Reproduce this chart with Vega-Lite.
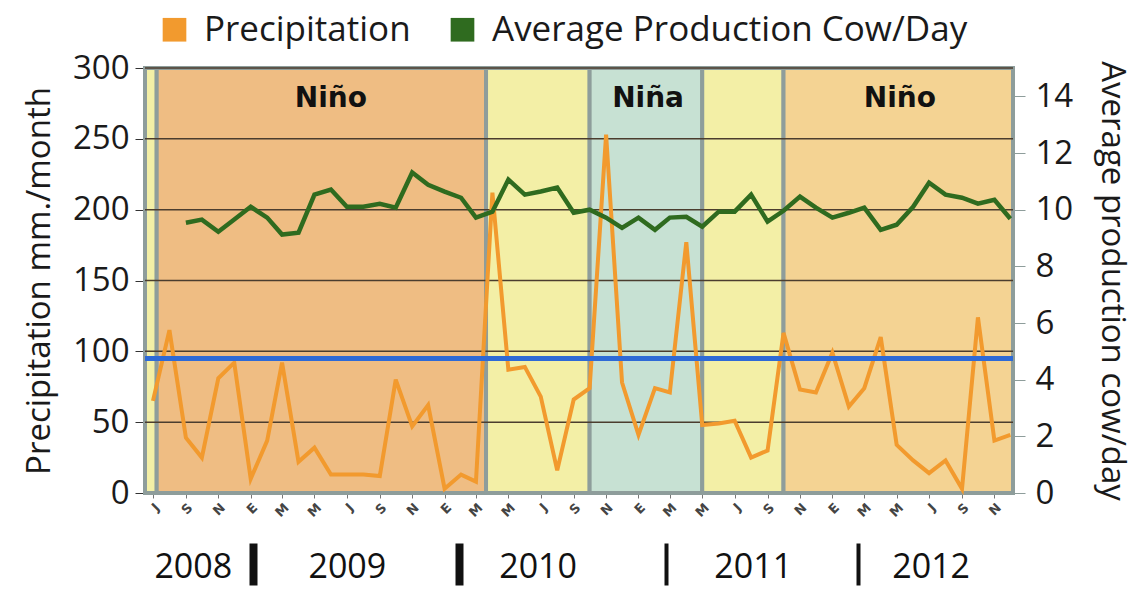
{
  "$schema": "https://vega.github.io/schema/vega-lite/v6.json",
  "width": 868,
  "height": 425,
  "autosize": {"type": "none"},
  "padding": {"left": 145, "top": 68, "right": 125, "bottom": 96},
  "background": "white",
  "config": {"view": {"stroke": null}, "font": "Open Sans", "axis": {"grid": false}},
  "datasets": {
    "series": [
      {"date": "2008/07/01", "precipitation": 65, "production": null},
      {"date": "2008/08/01", "precipitation": 115, "production": null},
      {"date": "2008/09/01", "precipitation": 39, "production": 9.54},
      {"date": "2008/10/01", "precipitation": 25, "production": 9.65},
      {"date": "2008/11/01", "precipitation": 81, "production": 9.22},
      {"date": "2008/12/01", "precipitation": 92, "production": 9.65},
      {"date": "2009/01/01", "precipitation": 10, "production": 10.1},
      {"date": "2009/02/01", "precipitation": 37, "production": 9.72},
      {"date": "2009/03/01", "precipitation": 92, "production": 9.12},
      {"date": "2009/04/01", "precipitation": 22, "production": 9.19},
      {"date": "2009/05/01", "precipitation": 32, "production": 10.53},
      {"date": "2009/06/01", "precipitation": 13, "production": 10.71},
      {"date": "2009/07/01", "precipitation": 13, "production": 10.1},
      {"date": "2009/08/01", "precipitation": 13, "production": 10.1},
      {"date": "2009/09/01", "precipitation": 12, "production": 10.21},
      {"date": "2009/10/01", "precipitation": 80, "production": 10.07},
      {"date": "2009/11/01", "precipitation": 47, "production": 11.31},
      {"date": "2009/12/01", "precipitation": 62, "production": 10.88},
      {"date": "2010/01/01", "precipitation": 3, "production": 10.64},
      {"date": "2010/02/01", "precipitation": 13, "production": 10.42},
      {"date": "2010/03/01", "precipitation": 8, "production": 9.72},
      {"date": "2010/04/01", "precipitation": 212, "production": 9.93},
      {"date": "2010/05/01", "precipitation": 87, "production": 11.06},
      {"date": "2010/06/01", "precipitation": 89, "production": 10.53},
      {"date": "2010/07/01", "precipitation": 68, "production": 10.64},
      {"date": "2010/08/01", "precipitation": 16, "production": 10.78},
      {"date": "2010/09/01", "precipitation": 66, "production": 9.89},
      {"date": "2010/10/01", "precipitation": 74, "production": 10.0},
      {"date": "2010/11/01", "precipitation": 253, "production": 9.72},
      {"date": "2010/12/01", "precipitation": 78, "production": 9.36},
      {"date": "2011/01/01", "precipitation": 41, "production": 9.72},
      {"date": "2011/02/01", "precipitation": 74, "production": 9.29},
      {"date": "2011/03/01", "precipitation": 71, "production": 9.72},
      {"date": "2011/04/01", "precipitation": 177, "production": 9.75},
      {"date": "2011/05/01", "precipitation": 48, "production": 9.4},
      {"date": "2011/06/01", "precipitation": 49, "production": 9.93},
      {"date": "2011/07/01", "precipitation": 51, "production": 9.93},
      {"date": "2011/08/01", "precipitation": 25, "production": 10.53},
      {"date": "2011/09/01", "precipitation": 30, "production": 9.58},
      {"date": "2011/10/01", "precipitation": 113, "production": 9.96},
      {"date": "2011/11/01", "precipitation": 73, "production": 10.46},
      {"date": "2011/12/01", "precipitation": 71, "production": 10.07},
      {"date": "2012/01/01", "precipitation": 99, "production": 9.72},
      {"date": "2012/02/01", "precipitation": 61, "production": 9.89},
      {"date": "2012/03/01", "precipitation": 74, "production": 10.07},
      {"date": "2012/04/01", "precipitation": 110, "production": 9.29},
      {"date": "2012/05/01", "precipitation": 34, "production": 9.47},
      {"date": "2012/06/01", "precipitation": 23, "production": 10.1},
      {"date": "2012/07/01", "precipitation": 14, "production": 10.95},
      {"date": "2012/08/01", "precipitation": 23, "production": 10.53},
      {"date": "2012/09/01", "precipitation": 3, "production": 10.42},
      {"date": "2012/10/01", "precipitation": 124, "production": 10.21},
      {"date": "2012/11/01", "precipitation": 37, "production": 10.35},
      {"date": "2012/12/01", "precipitation": 41, "production": 9.68}
    ],
    "bands": [
      {"band": "Neutral 2008", "start": "2008/06/16", "end": "2008/07/08"},
      {"band": "Niño 2008-2010", "start": "2008/07/08", "end": "2010/03/20"},
      {"band": "Neutral 2010", "start": "2010/03/20", "end": "2010/10/01"},
      {"band": "Niña 2010-2011", "start": "2010/10/01", "end": "2011/05/01"},
      {"band": "Neutral 2011", "start": "2011/05/01", "end": "2011/10/01"},
      {"band": "Niño 2011-2012", "start": "2011/10/01", "end": "2012/12/06"}
    ],
    "grid": [{"level": 50}, {"level": 100}, {"level": 150}, {"level": 200}, {"level": 250}, {"level": 300}],
    "labels": [
      {"date": "2009/06/01", "label": "Niño"},
      {"date": "2011/01/19", "label": "Niña"},
      {"date": "2012/05/07", "label": "Niño"}
    ]
  },
  "resolve": {"scale": {"y": "independent"}, "axis": {"x": "independent"}},
  "layer": [
    {
      "data": {"name": "bands"},
      "mark": {"type": "rect", "stroke": "#8e9d9b", "strokeWidth": 4},
      "encoding": {
        "x": {
          "field": "start", "type": "temporal",
          "scale": {"domain": [{"year": 2008, "month": 6, "date": 16}, {"year": 2012, "month": 12, "date": 6}]},
          "axis": {
            "orient": "bottom", "title": null, "domain": false, "ticks": false,
            "values": [
              {"year": 2008, "month": 9, "date": 14},
              {"year": 2009, "month": 7, "date": 1},
              {"year": 2010, "month": 6, "date": 25},
              {"year": 2011, "month": 8, "date": 4},
              {"year": 2012, "month": 7, "date": 4}
            ],
            "format": "%Y", "labelFontSize": 34, "labelFont": "Open Sans", "labelColor": "#111",
            "labelPadding": 57, "labelFlush": false, "labelOverlap": false
          }
        },
        "x2": {"field": "end"},
        "fill": {
          "field": "band", "type": "nominal", "legend": null,
          "scale": {
            "domain": ["Neutral 2008", "Niño 2008-2010", "Neutral 2010", "Niña 2010-2011", "Neutral 2011", "Niño 2011-2012"],
            "range": ["#F3EFA6", "#EFBD83", "#F3EFA6", "#C7E1D3", "#F3EFA6", "#F4D393"]
          }
        }
      }
    },
    {
      "data": {"name": "grid"},
      "mark": {"type": "rule", "color": "#4b3d2e", "strokeWidth": 1.5},
      "encoding": {
        "y": {"field": "level", "type": "quantitative", "scale": {"domain": [0, 300]}, "axis": null}
      }
    },
    {
      "data": {"name": "series"},
      "mark": {"type": "line", "strokeWidth": 4},
      "encoding": {
        "x": {
          "field": "date", "type": "temporal",
          "scale": {"domain": [{"year": 2008, "month": 6, "date": 16}, {"year": 2012, "month": 12, "date": 6}]},
          "axis": {
            "orient": "bottom", "title": null,
            "tickCount": {"interval": "month", "step": 2},
            "labelExpr": "['E','F','M','A','M','J','J','A','S','O','N','D'][month(datum.value)]",
            "labelAngle": -45, "labelFontSize": 13, "labelFontWeight": "bold", "labelFont": "DejaVu Sans",
            "labelColor": "#444", "labelPadding": 3, "labelOverlap": false, "labelFlush": false,
            "domainColor": "#333", "domainWidth": 2, "tickSize": 5, "tickColor": "#777"
          }
        },
        "y": {
          "field": "precipitation", "type": "quantitative",
          "scale": {"domain": [0, 300]},
          "axis": {
            "orient": "left", "title": "Precipitation mm./month",
            "titleFontSize": 33, "titleFont": "Open Sans", "titleFontWeight": "normal", "titleColor": "#1a1a1a",
            "titlePadding": 16,
            "values": [0, 50, 100, 150, 200, 250, 300],
            "labelFontSize": 33, "labelFont": "Open Sans", "labelColor": "#1a1a1a", "labelPadding": 6,
            "tickSize": 10, "tickColor": "#333", "domainColor": "#333", "domainWidth": 2
          }
        },
        "color": {
          "datum": "Precipitation", "type": "nominal",
          "scale": {"domain": ["Precipitation", "Average Production Cow/Day"], "range": ["#F29A2E", "#2F6B1F"]},
          "legend": {
            "orient": "none", "legendX": 12, "legendY": -56, "direction": "horizontal", "title": null,
            "symbolType": "square", "symbolSize": 560,
            "labelFontSize": 35, "labelFont": "Open Sans", "labelColor": "#1a1a1a", "labelLimit": 0,
            "columnPadding": 34, "labelOffset": 12, "padding": 0,
            "encode": {"symbols": {"update": {"fill": {"scale": "color", "field": "value"}, "strokeWidth": {"value": 0}}}}
          }
        }
      }
    },
    {
      "data": {"values": [{"reference": 95}]},
      "mark": {"type": "rule", "color": "#2E6AD6", "strokeWidth": 5},
      "encoding": {
        "y": {"field": "reference", "type": "quantitative", "scale": {"domain": [0, 300]}, "axis": null}
      }
    },
    {
      "data": {"name": "series"},
      "mark": {"type": "line", "strokeWidth": 4.5},
      "encoding": {
        "x": {
          "field": "date", "type": "temporal",
          "scale": {"domain": [{"year": 2008, "month": 6, "date": 16}, {"year": 2012, "month": 12, "date": 6}]},
          "axis": null
        },
        "y": {
          "field": "production", "type": "quantitative",
          "scale": {"domain": [0, 15]},
          "axis": {
            "orient": "right", "title": "Average production cow/day",
            "titleFontSize": 33, "titleFont": "Open Sans", "titleFontWeight": "normal", "titleColor": "#1a1a1a",
            "titlePadding": 22,
            "values": [0, 2, 4, 6, 8, 10, 12, 14],
            "labelFontSize": 33, "labelFont": "Open Sans", "labelColor": "#1a1a1a", "labelPadding": 10,
            "tickSize": 12, "tickColor": "#8e9d9b", "domainColor": "#8e9d9b", "domainWidth": 3
          }
        },
        "color": {"datum": "Average Production Cow/Day", "type": "nominal"}
      }
    },
    {
      "data": {"name": "labels"},
      "mark": {"type": "text", "font": "DejaVu Sans", "fontWeight": "bold", "fontSize": 28, "color": "#111", "baseline": "middle"},
      "encoding": {
        "x": {
          "field": "date", "type": "temporal",
          "scale": {"domain": [{"year": 2008, "month": 6, "date": 16}, {"year": 2012, "month": 12, "date": 6}]},
          "axis": {
            "orient": "bottom", "title": null, "labels": false, "domain": false, "offset": 50,
            "values": [
              {"year": 2009, "month": 1, "date": 5},
              {"year": 2010, "month": 1, "date": 29},
              {"year": 2011, "month": 2, "date": 21},
              {"year": 2012, "month": 2, "date": 19}
            ],
            "tickSize": 42, "tickColor": "#111",
            "tickWidth": {"condition": {"test": "year(datum.value) <= 2010", "value": 8}, "value": 4}
          }
        },
        "y": {"datum": 278, "type": "quantitative", "scale": {"domain": [0, 300]}, "axis": null},
        "text": {"field": "label", "type": "nominal"}
      }
    }
  ]
}
